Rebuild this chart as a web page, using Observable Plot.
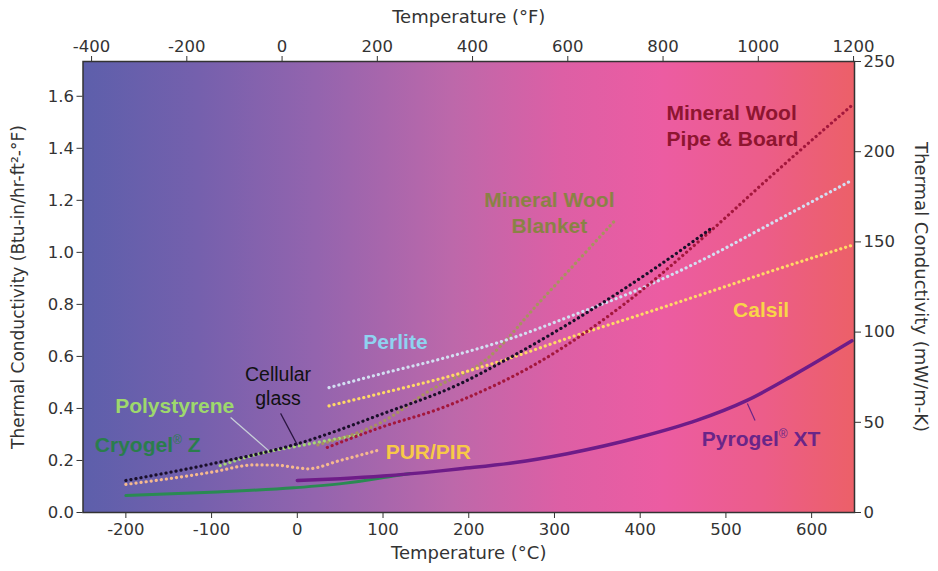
<!DOCTYPE html>
<html>
<head>
<meta charset="utf-8">
<script src="https://cdn.jsdelivr.net/npm/d3@7"></script>
<script src="https://cdn.jsdelivr.net/npm/@observablehq/plot@0.6"></script>
<style>
  html, body { margin: 0; padding: 0; background: #ffffff; }
  #chart svg { display: block; }
</style>
</head>
<body>
<div id="chart"></div>
<script>
// ---- tick labels ----
const cTicks = [-200, -100, 0, 100, 200, 300, 400, 500, 600];
const fTicks = [-400, -200, 0, 200, 400, 600, 800, 1000, 1200];
const btuTicks = [0, 0.2, 0.4, 0.6, 0.8, 1.0, 1.2, 1.4, 1.6];
const mwTicks = [0, 50, 100, 150, 200, 250];

// ---- series (temperature °C, conductivity Btu-in/hr-ft²-°F) ----
const cellularC = [-200, -100, 0, 100, 190, 245, 342, 420, 482];
const cellularK = [0.123, 0.187, 0.264, 0.38, 0.495, 0.59, 0.777, 0.945, 1.09];

const pipeC = [35, 100, 167, 190, 283, 381, 478, 555, 647];
const pipeK = [0.25, 0.33, 0.40, 0.43, 0.58, 0.80, 1.07, 1.30, 1.565];

const blanketC = [24, 100, 155, 221, 283, 369];
const blanketK = [0.26, 0.35, 0.47, 0.59, 0.81, 1.117];

const perliteC = [37, 100, 167, 250, 323, 400, 478, 555, 647];
const perliteK = [0.48, 0.535, 0.59, 0.67, 0.76, 0.86, 0.98, 1.115, 1.277];

const calsilC = [37, 100, 190, 245, 320, 400, 478, 555, 647];
const calsilK = [0.41, 0.46, 0.535, 0.59, 0.675, 0.76, 0.845, 0.93, 1.027];

const purC = [-200, -150, -100, -50, -25, 0, 12, 50, 93];
const purK = [0.108, 0.13, 0.155, 0.183, 0.182, 0.172, 0.168, 0.2, 0.238];

const polyC = [-90, -43, 0, 74];
const polyK = [0.18, 0.227, 0.255, 0.30];

const cryoC = [-200, -101, -4, 54, 112, 132];
const cryoK = [0.065, 0.078, 0.095, 0.112, 0.14, 0.15];

const pyroC = [0, 50, 100, 167, 190, 250, 315, 400, 466, 524, 580, 647];
const pyroK = [0.123, 0.13, 0.14, 0.16, 0.168, 0.19, 0.226, 0.29, 0.354, 0.43, 0.53, 0.66];

// ---- labels ----
const labelText = ["Mineral Wool", "Pipe & Board", "Mineral Wool", "Blanket", "Calsil", "Pyrogel® XT",
                   "Perlite", "Polystyrene", "Cryogel® Z", "PUR/PIR"];
const labelC = [506.6, 507.7, 294, 294, 541, 541, 114.5, -143, -174.6, 152.8];
const labelK = [1.535, 1.435, 1.20, 1.10, 0.777, 0.281, 0.654, 0.408, 0.258, 0.231];
const labelColor = ["#8e1530", "#8e1530", "#8a8245", "#8a8245", "#f8d548", "#6a2588",
                    "#8fd3f0", "#9ed86c", "#2a7d4c", "#f7c948"];
const glassText = ["Cellular", "glass"];
const glassC = [-22.5, -22.5];
const glassK = [0.531, 0.438];

// leader lines
const leaderC1 = [-19.5, -77.8, 525];
const leaderK1 = [0.381, 0.365, 0.419];
const leaderC2 = [0.3, -33.5, 534];
const leaderK2 = [0.258, 0.238, 0.354];
const leaderColor = ["#2a1540", "#c8d0d8", "#6a2588"];

const MW_PER_BTU = 144.2;
const cToF = c => c * 9 / 5 + 32;
const fToC = f => (f - 32) * 5 / 9;

const rows = (cs, ks) => cs.map((c, i) => ({c, k: ks[i]}));

const dotted = (cs, ks, color) => Plot.line(rows(cs, ks), {
  x: "c", y: "k", stroke: color, strokeWidth: 3.2,
  strokeDasharray: "0.1,5", strokeLinecap: "round", curve: "monotone-x"
});
const solid = (cs, ks, color, w) => Plot.line(rows(cs, ks), {
  x: "c", y: "k", stroke: color, strokeWidth: w, curve: "monotone-x"
});

const labels = labelText.map((t, i) => ({t, c: labelC[i], k: labelK[i], color: labelColor[i]}));
const glass = glassText.map((t, i) => ({t, c: glassC[i], k: glassK[i]}));
const leaders = leaderC1.map((c, i) => ({c1: c, k1: leaderK1[i], c2: leaderC2[i], k2: leaderK2[i], color: leaderColor[i]}));

const axisFont = "'DejaVu Sans', sans-serif";

const chart = Plot.plot({
  width: 938,
  height: 571,
  marginTop: 61,
  marginBottom: 59,
  marginLeft: 82.5,
  marginRight: 84,
  x: {domain: [-250, 650]},
  y: {domain: [0, 250 / MW_PER_BTU]},
  style: {fontFamily: axisFont, fontSize: "16.5px", color: "#333", background: "#fff"},
  marks: [
    Plot.frame({fill: "url(#bggrad)", stroke: "none"}),
    Plot.axisX({anchor: "bottom", ticks: cTicks, tickFormat: d => String(d), label: null, tickSize: 6, tickPadding: 5}),
    Plot.axisX({anchor: "top", ticks: fTicks.map(fToC), tickFormat: d => String(Math.round(cToF(d))), label: null, tickSize: 6, tickPadding: 4}),
    Plot.axisY({anchor: "left", ticks: btuTicks, tickFormat: d => d.toFixed(1), label: null, tickSize: 6, tickPadding: 3}),
    Plot.axisY({anchor: "right", ticks: mwTicks.map(m => m / MW_PER_BTU), tickFormat: d => String(Math.round(d * MW_PER_BTU)), label: null, tickSize: 6, tickPadding: 3}),
    Plot.text(["Temperature (°C)"], {frameAnchor: "bottom", dy: 46, text: d => d, fontSize: 18, textAnchor: "middle"}),
    Plot.text(["Temperature (°F)"], {frameAnchor: "top", dy: -51, text: d => d, fontSize: 18, textAnchor: "middle"}),
    Plot.text(["Thermal Conductivity (Btu-in/hr-ft²-°F)"], {frameAnchor: "left", dx: -64, rotate: -90, text: d => d, fontSize: 17, textAnchor: "middle"}),
    Plot.text(["Thermal Conductivity (mW/m-K)"], {frameAnchor: "right", dx: 66, rotate: 90, text: d => d, fontSize: 18, textAnchor: "middle"}),

    solid(cryoC, cryoK, "#2a8a52", 3),
    solid(pyroC, pyroK, "#6e1c88", 3.5),
    dotted(purC, purK, "#f6b98e"),
    dotted(polyC, polyK, "#a6d874"),
    dotted(blanketC, blanketK, "#a8925e"),
    dotted(calsilC, calsilK, "#ffd966"),
    dotted(perliteC, perliteK, "#d3dff2"),
    dotted(pipeC, pipeK, "#a3173c"),
    dotted(cellularC, cellularK, "#1a0f2a"),

    Plot.link(leaders, {x1: "c1", y1: "k1", x2: "c2", y2: "k2", stroke: "color", strokeWidth: 1.2}),

    Plot.text(labels, {x: "c", y: "k", text: "t", fill: "color", fontSize: 21, fontWeight: "bold",
      fontFamily: "'Liberation Sans', Arial, sans-serif", lineAnchor: "middle"}),
    Plot.text(glass, {x: "c", y: "k", text: "t", fill: "#111", fontSize: 19.5,
      fontFamily: "'Liberation Sans', Arial, sans-serif", lineAnchor: "middle"}),

    Plot.frame({stroke: "#333", strokeWidth: 1.5})
  ]
});

const svg = chart.tagName.toLowerCase() === "svg" ? chart : chart.querySelector("svg");
const defs = d3.select(svg).insert("defs", ":first-child");
const grad = defs.append("linearGradient").attr("id", "bggrad").attr("x1", 0).attr("x2", 1).attr("y1", 0).attr("y2", 0);
[[0, "#5d5fab"], [0.15, "#7560ad"], [0.3, "#9364ae"], [0.48, "#bd68aa"], [0.62, "#dd5fa5"],
 [0.75, "#ec5ca2"], [0.88, "#ec5d8a"], [1, "#ec6068"]].forEach(([o, c]) =>
  grad.append("stop").attr("offset", o).attr("stop-color", c));

// registered-mark as superscript
d3.select(svg).selectAll("text").each(function () {
  const el = this;
  if (el.childElementCount === 0 && el.textContent.includes("®")) {
    const [a, b] = el.textContent.split("®");
    el.textContent = "";
    const s = d3.select(el);
    s.append("tspan").text(a);
    s.append("tspan").attr("dy", -8).attr("font-size", 12).attr("font-weight", "normal").text("®");
    s.append("tspan").attr("dy", 8).text(b);
  }
});

document.getElementById("chart").appendChild(chart);
</script>
</body>
</html>
